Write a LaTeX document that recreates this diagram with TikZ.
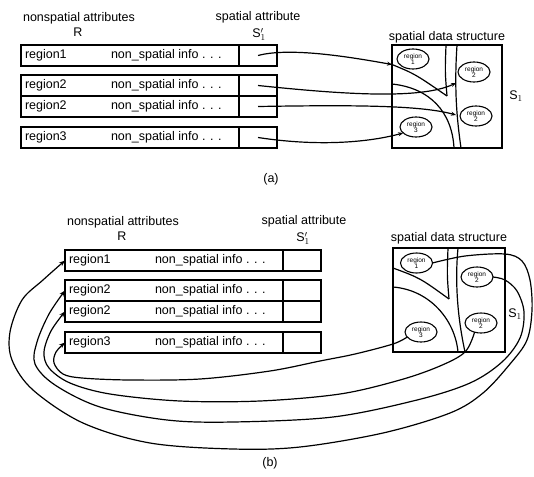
\documentclass[tikz,border=0pt]{standalone}
\usepackage{fontspec}
\setmainfont{Liberation Sans}
\usetikzlibrary{shapes.geometric,arrows.meta}

\begin{document}
\begin{tikzpicture}[x=1pt,y=-1pt,
  every node/.style={inner sep=0pt, outer sep=0pt},
  line/.style={line width=1.2pt},
  cell/.style={draw, line width=1.3pt, anchor=north west, minimum height=21pt},
  namecell/.style={cell, minimum width=218pt},
  attrcell/.style={cell, minimum width=38pt},
  txt/.style={font=\fontsize{12.5}{14}\selectfont},
  lbl/.style={txt, anchor=west},
  area/.style={draw, line width=1.3pt, anchor=north west},
  blob/.style={draw, ellipse, line width=1.1pt, minimum width=32pt, minimum height=20pt,
    font=\fontsize{6.5}{6}\selectfont, align=center},
  link/.style={line width=1.2pt, -{Stealth[length=5pt,width=4pt]}},
  back/.style={line width=1.2pt, -{Stealth[length=6pt,width=4.5pt]}},
]
\path[fill=white] (0,0) rectangle (534,476);

% ---------------- (a) pointers from tuples to the spatial structure
\node[txt] (na) at (79,18) {nonspatial attributes};
\node[txt] (ra) at (78,32) {R};
\node[txt] (sa) at (258,17) {spatial attribute};
\node[txt] (spa) at (259,34.5) {S$'_1$};

\node[namecell] (n1a) at (21,45) {};
\node[attrcell] (s1a) at (n1a.north east) {};
\node[namecell] (n2a) at (21,75) {};
\node[attrcell] (s2a) at (n2a.north east) {};
\node[namecell] (n3a) at (21,96) {};
\node[attrcell] (s3a) at (n3a.north east) {};
\node[namecell] (n4a) at (21,127) {};
\node[attrcell] (s4a) at (n4a.north east) {};

\node[lbl] (t1a) at ([xshift=4pt]n1a.west) {region1};
\node[lbl] (i1a) at ([xshift=90pt]n1a.west) {non\_spatial info . . .};
\node[lbl] (t2a) at ([xshift=4pt]n2a.west) {region2};
\node[lbl] (i2a) at ([xshift=90pt]n2a.west) {non\_spatial info . . .};
\node[lbl] (t3a) at ([xshift=4pt]n3a.west) {region2};
\node[lbl] (i3a) at ([xshift=90pt]n3a.west) {non\_spatial info . . .};
\node[lbl] (t4a) at ([xshift=4pt]n4a.west) {region3};
\node[lbl] (i4a) at ([xshift=90pt]n4a.west) {non\_spatial info . . .};

\node[txt] (dsa) at (447,37) {spatial data structure};
\node[area, minimum width=110pt, minimum height=103pt] (boxa) at (392,45) {};
\node[txt] (s1lbla) at (516,96) {S$_1$};

% partition of the space
\draw[line] (446,45) .. controls (445,72) .. (447,96);
\draw[line] (392,64.5) .. controls (415,74) .. (447,96);
\draw[line] (457,45) .. controls (454,90) and (457,120) .. (461,148);
\draw[line] (392,84) .. controls (430,88) and (452,112) .. (454,148);

\node[blob] (r1a) at (413,59) {region\\1};
\node[blob] (r2ua) at (474,72) {region\\2};
\node[blob] (r2la) at (476,116) {region\\2};
\node[blob] (r3a) at (416,127) {region\\3};

\coordinate (d1a) at (392,64.5);
\coordinate (p2a) at (456,83);
\coordinate (p3a) at (456,115);

\draw[link] (s1a.center) .. controls (290,47) and (350,57) .. (d1a);
\draw[link] (s2a.center) .. controls (340,94) and (420,100) .. (p2a);
\draw[link] (s3a.center) .. controls (350,105) and (420,105) .. (p3a);
\draw[link] (s4a.center) .. controls (320,147) and (370,142) .. (r3a.205);

\node[txt] (capa) at (271,179) {(a)};

% ---------------- (b) pointers from the spatial structure back to the tuples
\node[txt] (nb) at (123,222) {nonspatial attributes};
\node[txt] (rb) at (122,236) {R};
\node[txt] (sb) at (304,221) {spatial attribute};
\node[txt] (spb) at (303,238.5) {S$'_1$};

\node[namecell] (n1b) at (65,250) {};
\node[attrcell] (s1b) at (n1b.north east) {};
\node[namecell] (n2b) at (65,280) {};
\node[attrcell] (s2b) at (n2b.north east) {};
\node[namecell] (n3b) at (65,301) {};
\node[attrcell] (s3b) at (n3b.north east) {};
\node[namecell] (n4b) at (65,332) {};
\node[attrcell] (s4b) at (n4b.north east) {};

\node[lbl] (t1b) at ([xshift=4pt]n1b.west) {region1};
\node[lbl] (i1b) at ([xshift=90pt]n1b.west) {non\_spatial info . . .};
\node[lbl] (t2b) at ([xshift=4pt]n2b.west) {region2};
\node[lbl] (i2b) at ([xshift=90pt]n2b.west) {non\_spatial info . . .};
\node[lbl] (t3b) at ([xshift=4pt]n3b.west) {region2};
\node[lbl] (i3b) at ([xshift=90pt]n3b.west) {non\_spatial info . . .};
\node[lbl] (t4b) at ([xshift=4pt]n4b.west) {region3};
\node[lbl] (i4b) at ([xshift=90pt]n4b.west) {non\_spatial info . . .};

\node[txt] (dsb) at (449,238) {spatial data structure};
\node[area, minimum width=112pt, minimum height=104pt] (boxb) at (393,248) {};
\node[txt] (s1lblb) at (515,314) {S$_1$};

% partition of the space
\draw[line] (448,248) .. controls (447,275) .. (449,299);
\draw[line] (393,268) .. controls (420,278) .. (449,299);
\draw[line] (458,248) .. controls (455,280) and (457,315) .. (465,352);
\draw[line] (393,287) .. controls (430,290) and (455,320) .. (458,352);

\node[blob] (r1b) at (416.5,263) {region\\1};
\node[blob] (r2ub) at (477,277) {region\\2};
\node[blob] (r2lb) at (481,323) {region\\2};
\node[blob] (r3b) at (421,332) {region\\3};

\draw[back] plot[smooth, tension=0.55] coordinates {(r1b.east) (465,256) (505,254) (522,261)
  (530,280) (532,310) (527,340) (510,364) (483,393) (450,413) (383,433) (300,447) (233,449)
  (150,443) (83,423) (33,390) (12,360) (10,332) (22,300) (43,280) (n1b.west)};
\draw[back] plot[smooth, tension=0.55] coordinates {(r2ub.east) (505,280) (517,291) (524,312)
  (520,338) (502,362) (470,383) (417,400) (333,417) (233,422) (167,420) (100,407) (55,385)
  (35,364) (37,342) (49,314) (n2b.west)};
\draw[back] plot[smooth, tension=0.55] coordinates {(r2lb.235) (465,352) (440,366) (400,380)
  (340,394) (260,401) (180,401) (110,394) (70,383) (49,368) (44,352) (51,331) (n3b.west)};
\draw[back] plot[smooth, tension=0.55] coordinates {(r3b.200) (393,344) (355,354) (320,361)
  (270,371) (200,379) (130,380) (82,378) (63,374) (54,363) (56,352) (n4b.west)};

\node[txt] (capb) at (270,463) {(b)};
\end{tikzpicture}
\end{document}
